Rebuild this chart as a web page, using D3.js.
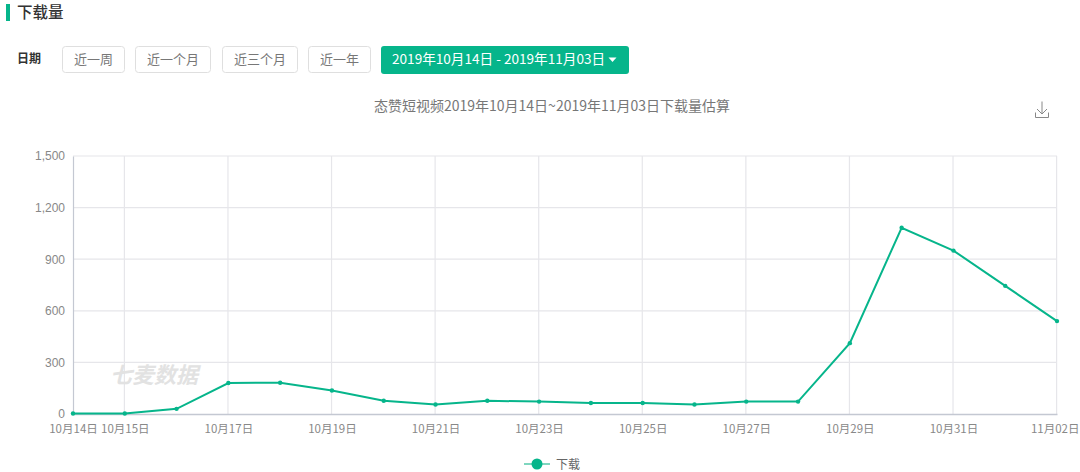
<!DOCTYPE html>
<html>
<head>
<meta charset="utf-8">
<script src="https://cdn.jsdelivr.net/npm/d3@7"></script>
<style>
html, body { margin: 0; padding: 0; background: #fff; overflow: hidden; }
svg { display: block; font-family: "Noto Sans CJK SC", "Noto Sans", sans-serif; }
</style>
</head>
<body>
<svg width="1080" height="472"></svg>
<script>
var days = ["10月14日","10月15日","10月16日","10月17日","10月18日","10月19日","10月20日","10月21日","10月22日","10月23日","10月24日","10月25日","10月26日","10月27日","10月28日","10月29日","10月30日","10月31日","11月01日","11月02日"]
var downloads = [3, 3, 30, 180, 182, 137, 77, 55, 77, 72, 64, 64, 55, 72, 72, 412, 1083, 950, 745, 540]
var tickDays = ["10月14日","10月15日","10月17日","10月19日","10月21日","10月23日","10月25日","10月27日","10月29日","10月31日","11月02日"]
var yTicks = [0, 300, 600, 900, 1200, 1500]
var rangeLabels = ["近一周", "近一个月", "近三个月", "近一年"]
var green = "#06b58b"

var svg = d3.select("svg")

// header
svg.append("rect").attr("x", 6).attr("y", 4).attr("width", 4).attr("height", 17).attr("fill", green)
svg.append("text").attr("x", 17).attr("y", 18).attr("font-size", 15.5).attr("font-weight", 500).attr("fill", "#333").text("下载量")
svg.append("text").attr("x", 17).attr("y", 63).attr("font-size", 12).attr("font-weight", 700).attr("fill", "#333").text("日期")

var btnX = [62, 135, 222, 308], btnW = [63, 76, 76, 63]
rangeLabels.forEach(function(label, i) {
	svg.append("rect").attr("x", btnX[i] + .5).attr("y", 46.5).attr("width", btnW[i] - 1).attr("height", 26).attr("rx", 3)
		.attr("fill", "#fff").attr("stroke", "#dfdfdf")
	svg.append("text").attr("x", btnX[i] + btnW[i] / 2).attr("y", 64).attr("text-anchor", "middle")
		.attr("font-size", 13).attr("fill", "#777").text(label)
})
svg.append("rect").attr("x", 381).attr("y", 46).attr("width", 248).attr("height", 28).attr("rx", 3).attr("fill", green)
svg.append("text").attr("x", 392).attr("y", 64).attr("font-size", 13.6).attr("fill", "#fff").text("2019年10月14日 - 2019年11月03日")
svg.append("path").attr("d", "M608.5,57.5h8l-4,4.5z").attr("fill", "#fff")

// chart title + download icon
svg.append("text").attr("x", 552).attr("y", 111).attr("text-anchor", "middle").attr("font-size", 14).attr("fill", "#777")
	.text("态赞短视频2019年10月14日~2019年11月03日下载量估算")
svg.append("path").attr("d", "M1042,101.5v12.5M1037,109l5,5l5,-5M1035.5,112.5v5h13v-5").attr("fill", "none").attr("stroke", "#888").attr("stroke-width", 1)

var x = d3.scalePoint().domain(days).range([73, 1057])
var y = d3.scaleLinear().domain([0, 1500]).range([414, 156])

// grid
svg.append("g").selectAll("line").data(yTicks.slice(1)).enter().append("line")
	.attr("x1", 73).attr("x2", 1057).attr("y1", function(d) { return y(d) }).attr("y2", function(d) { return y(d) })
	.attr("stroke", "#e6e6ea").attr("stroke-width", 1.2)
svg.append("g").selectAll("line").data(tickDays.slice(1)).enter().append("line")
	.attr("x1", function(d) { return x(d) - .4 }).attr("x2", function(d) { return x(d) - .4 })
	.attr("y1", 156).attr("y2", 414).attr("stroke", "#e6e6ea").attr("stroke-width", 1.2)

// watermark
svg.append("text").attr("x", 110).attr("y", 383).attr("font-size", 22).attr("font-style", "italic").attr("font-weight", 700)
	.attr("fill", "#e2e2e2").text("七麦数据")

// axes
var yAxis = svg.append("g").attr("transform", "translate(73,0)")
	.call(d3.axisLeft(y).tickValues(yTicks).tickSize(0).tickPadding(8).tickFormat(d3.format(",")))
yAxis.select(".domain").attr("stroke", "#c4c8d2").attr("stroke-width", 1.2)
yAxis.selectAll("text").attr("font-size", 12).attr("fill", "#888").attr("font-family", "Liberation Sans, sans-serif")

var xAxis = svg.append("g").attr("transform", "translate(0,414)")
	.call(d3.axisBottom(x).tickValues(tickDays).tickSize(0).tickPadding(11))
xAxis.select(".domain").attr("stroke", "#c4c8d2").attr("stroke-width", 1.4)
xAxis.selectAll("text").attr("font-size", 11.5).attr("fill", "#888").attr("font-family", "Noto Sans CJK SC, sans-serif")
xAxis.selectAll("text").filter(function(d) { return d == "11月02日" }).attr("text-anchor", "end").attr("dx", 22)

// line
var line = d3.line().x(function(d, i) { return x(days[i]) }).y(function(d) { return y(d) })
svg.append("path").datum(downloads).attr("d", line).attr("fill", "none").attr("stroke", green).attr("stroke-width", 2)
svg.append("g").selectAll("circle").data(downloads).enter().append("circle")
	.attr("cx", function(d, i) { return x(days[i]) }).attr("cy", function(d) { return y(d) }).attr("r", 2.2).attr("fill", green)

// legend
svg.append("line").attr("x1", 524).attr("x2", 550).attr("y1", 464).attr("y2", 464).attr("stroke", "#7fd6bf").attr("stroke-width", 2)
svg.append("circle").attr("cx", 537).attr("cy", 464).attr("r", 5.5).attr("fill", green)
svg.append("text").attr("x", 556).attr("y", 469).attr("font-size", 12).attr("fill", "#666").text("下载")
</script>
</body>
</html>
